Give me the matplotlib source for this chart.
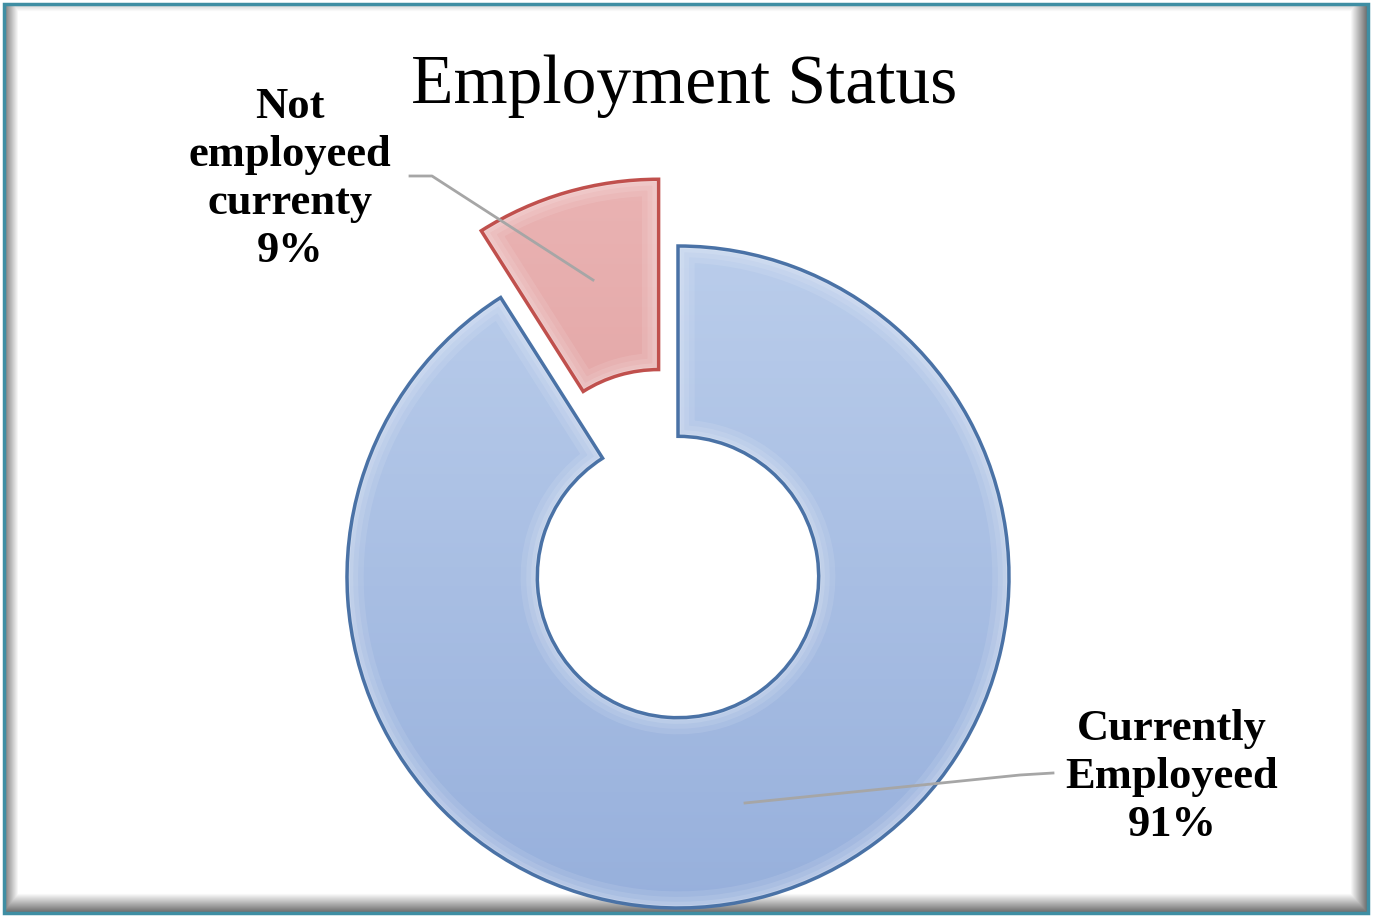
import numpy as np
import matplotlib.pyplot as plt
from matplotlib.colors import to_rgb
from matplotlib.patches import Wedge, Rectangle

# data
labels = ['Currently\nEmployeed\n91%', 'Not\nemployeed\ncurrenty\n9%']
shares = [91, 9]

W, H = 1375, 921
cx, cy, R = 678, 577, 331   # donut centre / radius in pixels


def to_ax(px, py):
    # pixel position -> pie units (radius = 1)
    return (px - cx) / R, (cy - py) / R


fig = plt.figure(figsize=(W / 100, H / 100), dpi=100)

# frame with bevel shading
bg = fig.add_axes([0, 0, 1, 1])
yy, xx = np.mgrid[0:H, 0:W]
img = np.ones((H, W))
img = np.minimum(img, 0.55 + 0.45 * np.clip((xx - 6) / 12, 0, 1))
img = np.minimum(img, 0.45 + 0.55 * np.clip((1366 - xx) / 16, 0, 1))
img = np.minimum(img, 0.45 + 0.55 * np.clip((911 - yy) / 18, 0, 1))
img = np.minimum(img, 0.85 + 0.15 * np.clip((yy - 6) / 6, 0, 1))
outside = (xx < 5) | (xx > 1367) | (yy < 5) | (yy > 912)
img[outside] = 1
bg.imshow(img, cmap='gray', vmin=0, vmax=1, extent=(0, W, H, 0), aspect='auto')
bg.add_patch(Rectangle((4, 4), 1364, 909, fill=False, edgecolor='#3f8ea3', lw=2.5))
bg.set_xlim(0, W)
bg.set_ylim(H, 0)
bg.axis('off')

ax = fig.add_axes([0, 0, 1, 1])
ax.patch.set_alpha(0)
wedges, _ = ax.pie(shares, radius=1, startangle=90, counterclock=False,
                   explode=[0, 0.21], colors=['#a7bee3', '#e2a3a3'],
                   wedgeprops=dict(width=0.575, edgecolor='none'))

grads = [('#bacdeb', '#97b0dc'), ('#eab3b3', '#d99494')]
edges = ['#4a72a6', '#c0504d']
for w, (c_top, c_bot), ec in zip(wedges, grads, edges):
    x0, y0 = w.center
    top, bot = np.array(to_rgb(c_top)), np.array(to_rgb(c_bot))
    t = np.linspace(0, 1, 200)[:, None]
    g = (top * (1 - t) + bot * t)[:, None, :].repeat(2, axis=1)
    im = ax.imshow(g, extent=(x0 - 1, x0 + 1, y0 - 1, y0 + 1), aspect='auto', zorder=2)
    im.set_clip_path(w)
    # soft bevel highlight along the inside of the edges
    for lw, a in [(24, 0.10), (16, 0.10), (9, 0.12), (4, 0.15)]:
        glow = Wedge(w.center, w.r, w.theta1, w.theta2, width=w.width, fill=False,
                     edgecolor='white', alpha=a, lw=lw, zorder=3)
        ax.add_patch(glow)
        glow.set_clip_path(w)
    ax.add_patch(Wedge(w.center, w.r, w.theta1, w.theta2, width=w.width, fill=False,
                       edgecolor=ec, lw=2.5, zorder=4))
ax.set_xlim(-cx / R, (W - cx) / R)
ax.set_ylim(-(H - cy) / R, cy / R)
ax.axis('off')

# leader lines
for pts in [[(410, 176), (432, 176), (593, 280)],
            [(1053, 773), (1020, 775), (745, 803)]]:
    xs, ys = zip(*[to_ax(*p) for p in pts])
    ax.plot(xs, ys, color='#a6a6a6', lw=2, zorder=5)

font = 'Liberation Serif'
ax.text(*to_ax(1172, 777), labels[0], ha='center', va='center', fontsize=32,
        fontweight='bold', family=font, linespacing=1.25, zorder=6)
ax.text(*to_ax(290, 179), labels[1], ha='center', va='center', fontsize=32,
        fontweight='bold', family=font, linespacing=1.25, zorder=6)
ax.text(*to_ax(684, 86), 'Employment Status', ha='center', va='center',
        fontsize=50, family=font, zorder=6)

fig.savefig('out.png', dpi=100)
